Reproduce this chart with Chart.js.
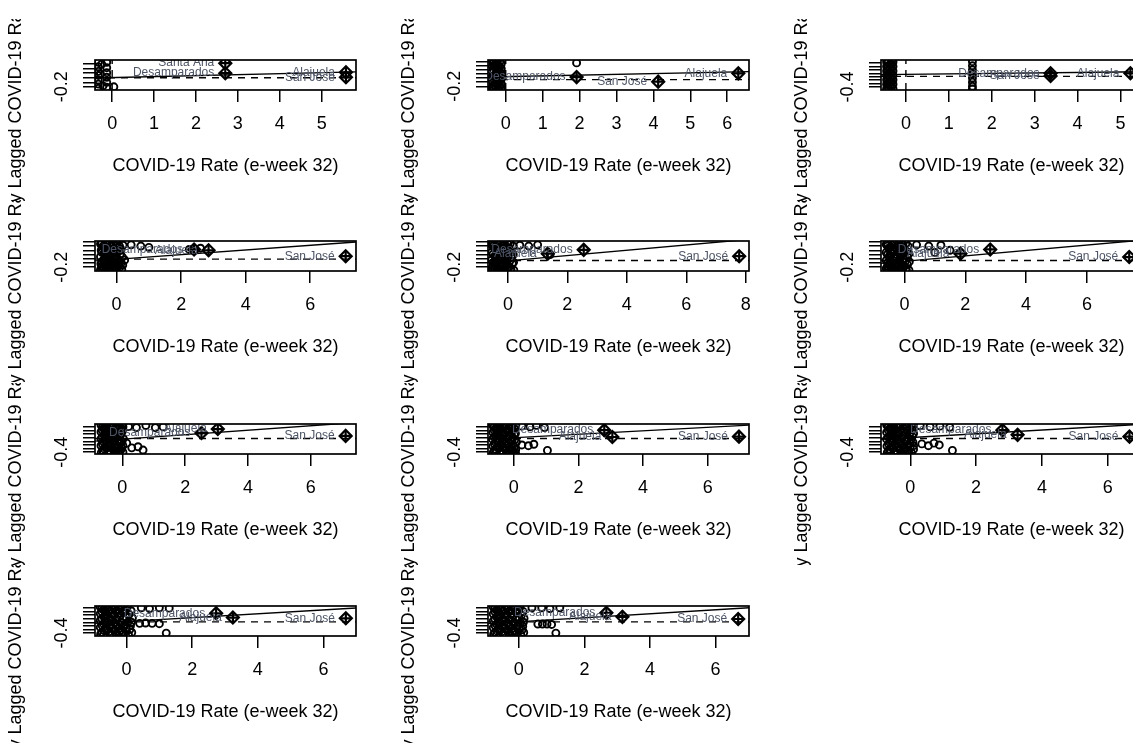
<!DOCTYPE html>
<html>
<head>
<meta charset="utf-8">
<script src="https://cdn.jsdelivr.net/npm/chart.js@4.4.1/dist/chart.umd.min.js"></script>
<style>
  html, body { margin: 0; padding: 0; background: #fff; }
  #page { position: relative; width: 1133px; height: 743px; overflow: hidden; background: #fff; }
  #page canvas { position: absolute; }
</style>
</head>
<body>
<div id="page"></div>
<script>
// ---- text ----
const xTitle = 'COVID-19 Rate (e-week 32)';
const yTitle = 'Spatially Lagged COVID-19 Rates (e-week 32)';

// ---- axis limits, tick steps, means and regression fit per panel (A..K, row by row) ----
const panelNames = ['A', 'B', 'C', 'D', 'E', 'F', 'G', 'H', 'I', 'J', 'K'];
const xLimits = [[-0.41, 5.82], [-0.48, 6.59], [-0.58, 5.5], [-0.67, 7.42], [-0.67, 8.11], [-0.77, 7.81],
                 [-0.87, 7.44], [-0.8, 7.28], [-0.89, 7.04], [-0.96, 6.99], [-0.94, 7.02]];
const yLimits = [[-0.27, 0.39], [-0.29, 0.43], [-0.49, 0.39], [-0.29, 0.42], [-0.29, 0.42], [-0.29, 0.42],
                 [-0.45, 0.38], [-0.45, 0.38], [-0.45, 0.38], [-0.48, 0.35], [-0.48, 0.35]];
const xTickStep = [1, 1, 1, 2, 2, 2, 2, 2, 2, 2, 2];
const meanRate = [0, 0, 0, 0, 0, 0, 0, 0, 0, 0, 0];
const meanLag = [0.0, -0.04, -0.09, -0.01, -0.04, -0.04, -0.02, -0.02, -0.02, -0.09, -0.09];
const regIntercept = [0.003, 0.03, -0.03, -0.014, -0.05, -0.06, -0.04, 0.0, 0.006, -0.08, -0.085];
const regSlope = [0.0217, 0.0185, 0.0138, 0.0554, 0.0627, 0.064, 0.0619, 0.048, 0.052, 0.0534, 0.055];

// ---- cantons: [rate, lagged rate] ----
const cantonsA = [[-0.33,0.34],[-0.33,0.24],[-0.33,0.14],[-0.33,0.05],[-0.33,-0.05],[-0.33,-0.14],[-0.33,-0.23],
  [-0.13,0.34],[-0.13,0.22],[-0.13,0.11],[-0.13,0.01],[-0.13,-0.1],[-0.13,-0.21],
  [-0.25,0.3],[-0.22,-0.18],[0.04,-0.2],[-0.28,0.08]];
const cantonsB = [[-0.36,0.39],[-0.36,0.28],[-0.36,0.16],[-0.36,0.04],[-0.36,-0.08],[-0.36,-0.2],
  [-0.26,0.36],[-0.26,0.24],[-0.26,0.12],[-0.26,0.0],[-0.26,-0.12],[-0.26,-0.24],
  [-0.16,0.39],[-0.16,0.27],[-0.16,0.15],[-0.16,0.03],[-0.16,-0.09],[-0.16,-0.21],
  [-0.3,0.32],[-0.21,-0.16],[-0.12,0.34],
  [-0.31,0.3],[-0.31,0.06],[-0.31,-0.18],[-0.21,0.3],[-0.21,0.06],[-0.2,-0.06],[-0.12,0.1],[-0.12,-0.14],
  [-0.33,0.36],[-0.33,0.18],[-0.33,-0.02],[-0.33,-0.24],[-0.22,0.42],[-0.22,0.18],[-0.22,-0.02],[-0.22,-0.25],
  [-0.12,0.22],[-0.12,-0.02],[-0.12,-0.24],[-0.36,-0.27],[-0.26,0.42],
  [1.92,0.36]];
const cantonsC = [[-0.45,0.33],[-0.45,0.2],[-0.45,0.07],[-0.45,-0.06],[-0.45,-0.19],[-0.45,-0.32],[-0.45,-0.45],
  [-0.37,0.27],[-0.37,0.14],[-0.37,0.01],[-0.37,-0.12],[-0.37,-0.25],[-0.37,-0.38],
  [-0.3,0.33],[-0.3,0.2],[-0.3,0.07],[-0.3,-0.06],[-0.3,-0.19],[-0.3,-0.32],[-0.3,-0.45],
  [-0.41,0.33],[-0.41,0.08],[-0.41,-0.17],[-0.41,-0.42],[-0.33,0.26],[-0.33,0.0],[-0.33,-0.26],
  [-0.41,0.2],[-0.41,-0.05],[-0.41,-0.3],[-0.33,0.38],[-0.33,0.13],[-0.33,-0.13],[-0.33,-0.39],
  [1.55,0.34],[1.55,0.22],[1.55,0.1],[1.55,-0.02],[1.55,-0.14],[1.55,-0.26],[1.55,-0.38],[1.55,-0.46]];
const cantonsD = [[-0.5,0.35],[-0.42,0.3],[-0.48,0.2],[-0.38,0.12],[-0.5,0.05],[-0.41,-0.03],[-0.49,-0.12],[-0.4,-0.2],[-0.5,-0.26],
  [-0.3,0.34],[-0.26,0.24],[-0.31,0.14],[-0.24,0.04],[-0.3,-0.06],[-0.22,-0.15],[-0.29,-0.25],
  [-0.15,0.3],[-0.1,0.2],[-0.16,0.1],[-0.08,0.0],[-0.14,-0.1],[-0.06,-0.19],[-0.15,-0.26],
  [0.02,0.35],[0.05,0.26],[0.0,0.15],[0.08,-0.08],[0.1,-0.2],[0.16,-0.25],[0.2,0.32],[0.14,0.22],[0.25,-0.03],
  [-0.45,0.25],[-0.36,-0.1],[-0.44,-0.24],[-0.2,0.3],[-0.2,0.06],[-0.19,-0.22],[-0.03,0.3],[-0.04,0.08],
  [-0.02,-0.12],[-0.01,-0.26],[0.12,0.12],[0.14,-0.1],[-0.35,0.2],[-0.1,-0.05],
  [-0.46,0.36],[-0.46,0.15],[-0.45,-0.07],[-0.46,-0.18],[-0.34,0.29],[-0.35,0.07],[-0.34,-0.16],[-0.35,-0.27],
  [-0.22,0.37],[-0.23,0.16],[-0.24,-0.04],[-0.25,-0.19],[-0.11,0.35],[-0.12,0.12],[-0.1,-0.14],[-0.09,-0.27],
  [0.02,0.21],[0.03,0.0],[0.06,-0.17],[0.18,0.04],[0.19,-0.15],[0.09,0.3],
  [0.45,0.33],[0.75,0.3],[1.0,0.27],[2.25,0.22],[2.6,0.25]];
const cantonsE = [[-0.55,0.34],[-0.46,0.26],[-0.54,0.16],[-0.44,0.07],[-0.55,-0.03],[-0.45,-0.12],[-0.54,-0.22],[-0.45,-0.27],
  [-0.34,0.33],[-0.3,0.22],[-0.36,0.12],[-0.28,0.02],[-0.35,-0.08],[-0.27,-0.18],[-0.35,-0.26],
  [-0.18,0.3],[-0.12,0.2],[-0.2,0.1],[-0.1,0.0],[-0.18,-0.1],[-0.08,-0.2],[-0.17,-0.26],
  [0.0,0.34],[0.04,0.24],[0.0,0.13],[0.06,-0.06],[0.1,-0.24],[0.2,-0.27],[0.18,0.3],[0.12,0.06],
  [-0.5,0.3],[-0.4,-0.03],[-0.5,-0.17],[-0.25,0.27],[-0.24,0.05],[-0.22,-0.24],[-0.05,0.29],[-0.06,0.08],
  [-0.04,-0.14],[-0.02,-0.26],[0.14,0.16],[0.15,-0.12],[-0.4,0.18],[-0.13,-0.05],
  [-0.5,0.36],[-0.5,0.11],[-0.49,-0.08],[-0.5,-0.26],[-0.39,0.3],[-0.4,0.07],[-0.39,-0.19],[-0.27,0.37],
  [-0.28,0.15],[-0.3,-0.13],[-0.3,-0.27],[-0.14,0.35],[-0.15,0.14],[-0.14,-0.16],[-0.12,-0.27],[0.02,0.19],
  [0.02,-0.01],[0.05,-0.19],[0.18,0.1],[0.19,-0.08],[0.08,0.36],[0.1,-0.27],
  [0.4,0.32],[0.7,0.3],[1.0,0.33],[1.42,0.1]];
const cantonsF = [[-0.6,0.34],[-0.52,0.25],[-0.6,0.15],[-0.5,0.06],[-0.6,-0.04],[-0.51,-0.13],[-0.6,-0.23],[-0.52,-0.27],
  [-0.4,0.32],[-0.36,0.22],[-0.42,0.12],[-0.33,0.02],[-0.41,-0.08],[-0.32,-0.18],[-0.4,-0.26],
  [-0.23,0.3],[-0.17,0.2],[-0.25,0.1],[-0.15,0.0],[-0.23,-0.1],[-0.13,-0.2],[-0.22,-0.26],
  [-0.05,0.34],[0.0,0.24],[-0.04,0.12],[0.02,-0.07],[0.06,-0.25],[0.15,-0.27],[0.12,0.3],[0.1,0.05],
  [-0.56,0.3],[-0.46,-0.02],[-0.56,-0.18],[-0.3,0.27],[-0.29,0.05],[-0.27,-0.24],[-0.1,0.29],[-0.1,0.07],
  [-0.08,-0.14],[-0.06,-0.26],[0.08,0.17],[0.1,-0.14],[-0.46,0.18],[-0.18,-0.05],
  [-0.56,0.36],[-0.56,0.1],[-0.55,-0.09],[-0.56,-0.26],[-0.45,0.28],[-0.46,0.07],[-0.45,-0.2],[-0.33,0.36],
  [-0.34,0.16],[-0.35,-0.13],[-0.35,-0.27],[-0.19,0.35],[-0.2,0.14],[-0.19,-0.16],[-0.17,-0.27],[-0.03,0.19],
  [-0.02,-0.01],[0.0,-0.18],[0.15,0.12],[0.16,-0.07],[0.05,0.36],[0.05,-0.27],
  [0.4,0.33],[0.8,0.3],[1.2,0.32],[1.0,0.15],[1.5,0.2]];
const cantonsG = [[-0.68,0.35],[-0.6,0.26],[-0.68,0.16],[-0.58,0.07],[-0.68,-0.03],[-0.59,-0.12],[-0.68,-0.22],[-0.58,-0.31],[-0.67,-0.41],
  [-0.48,0.33],[-0.44,0.22],[-0.5,0.12],[-0.42,0.02],[-0.5,-0.08],[-0.41,-0.18],[-0.5,-0.28],[-0.42,-0.38],
  [-0.32,0.3],[-0.26,0.2],[-0.34,0.1],[-0.24,0.0],[-0.32,-0.1],[-0.22,-0.2],[-0.31,-0.3],[-0.24,-0.41],
  [-0.14,0.35],[-0.1,0.25],[-0.15,0.13],[-0.08,0.04],[-0.14,-0.06],[-0.06,-0.15],[-0.14,-0.25],[-0.05,-0.34],[-0.12,-0.42],
  [0.02,0.3],[0.0,0.18],[0.03,-0.02],[0.02,-0.22],
  [-0.63,0.3],[-0.54,-0.02],[-0.63,-0.35],[-0.38,0.28],[-0.37,0.05],[-0.36,-0.24],[-0.2,0.27],[-0.19,0.06],
  [-0.18,-0.36],[-0.04,0.1],[-0.03,-0.28],[-0.55,0.2],[-0.27,-0.15],[-0.1,-0.1],
  [-0.64,0.21],[-0.64,0.02],[-0.63,-0.17],[-0.55,0.31],[-0.55,0.12],[-0.54,-0.07],[-0.54,-0.26],[-0.46,0.26],
  [-0.46,-0.36],[-0.37,0.14],[-0.37,-0.05],[-0.37,-0.43],[-0.28,0.34],[-0.28,-0.34],[-0.19,0.17],[-0.2,-0.27],
  [-0.1,-0.36],[-0.09,0.31],[-0.01,0.24],[-0.01,-0.11],[0.02,-0.4],[-0.6,-0.42],[-0.5,0.35],
  [0.14,-0.15],[0.3,-0.28],[0.5,-0.25],[0.66,-0.34],[0.2,0.31],[0.45,0.28],[0.75,0.34],[1.05,0.28],[1.3,0.3]];
const cantonsH = [[-0.66,0.34],[-0.57,0.25],[-0.65,0.15],[-0.56,0.06],[-0.66,-0.04],[-0.56,-0.13],[-0.65,-0.23],[-0.56,-0.32],[-0.64,-0.41],
  [-0.46,0.32],[-0.4,0.22],[-0.47,0.11],[-0.38,0.01],[-0.47,-0.09],[-0.38,-0.19],[-0.46,-0.29],[-0.38,-0.4],
  [-0.28,0.33],[-0.22,0.21],[-0.3,0.1],[-0.2,-0.01],[-0.28,-0.11],[-0.18,-0.21],[-0.27,-0.31],[-0.2,-0.42],
  [-0.1,0.3],[-0.05,0.2],[-0.11,0.1],[-0.03,0.0],[-0.1,-0.1],[-0.02,-0.2],[-0.1,-0.3],[-0.01,-0.4],
  [0.06,0.34],[0.05,0.12],[0.08,-0.12],[0.06,-0.32],
  [-0.61,0.3],[-0.51,-0.02],[-0.61,-0.36],[-0.35,0.28],[-0.34,0.05],[-0.33,-0.25],[-0.16,0.27],[-0.15,0.05],
  [-0.14,-0.36],[0.02,0.08],[0.02,-0.26],[-0.52,0.2],[-0.24,-0.16],[-0.06,-0.06],
  [-0.61,0.21],[-0.61,0.02],[-0.6,-0.17],[-0.52,0.31],[-0.52,0.12],[-0.51,-0.07],[-0.51,-0.26],[-0.42,0.27],
  [-0.42,-0.36],[-0.33,0.15],[-0.33,-0.05],[-0.33,-0.43],[-0.24,0.34],[-0.24,-0.34],[-0.15,0.17],[-0.16,-0.27],
  [-0.06,-0.36],[-0.05,0.31],[0.03,0.24],[0.03,-0.05],[0.05,-0.41],[-0.57,-0.42],[-0.47,0.35],
  [0.25,-0.2],[0.45,-0.22],[0.62,-0.18],[1.04,-0.35],[0.25,0.32],[0.5,0.3],[0.7,0.34],[0.95,0.28]];
const cantonsI = [[-0.72,0.35],[-0.63,0.25],[-0.72,0.15],[-0.62,0.06],[-0.72,-0.04],[-0.62,-0.13],[-0.71,-0.23],[-0.62,-0.32],[-0.7,-0.41],
  [-0.52,0.32],[-0.46,0.22],[-0.53,0.11],[-0.44,0.01],[-0.53,-0.09],[-0.44,-0.19],[-0.52,-0.29],[-0.44,-0.4],
  [-0.34,0.33],[-0.28,0.21],[-0.36,0.1],[-0.26,-0.01],[-0.34,-0.11],[-0.24,-0.21],[-0.33,-0.31],[-0.26,-0.42],
  [-0.15,0.3],[-0.1,0.2],[-0.16,0.1],[-0.08,0.0],[-0.15,-0.1],[-0.06,-0.2],[-0.15,-0.3],[-0.05,-0.4],
  [0.04,0.34],[0.1,0.12],[0.08,-0.12],[0.1,-0.32],[0.02,-0.04],
  [-0.67,0.3],[-0.57,-0.02],[-0.67,-0.36],[-0.4,0.28],[-0.4,0.05],[-0.38,-0.25],[-0.21,0.27],[-0.2,0.05],
  [-0.2,-0.36],[-0.02,0.1],[0.0,-0.26],[-0.58,0.2],[-0.3,-0.16],[-0.1,-0.06],[0.06,0.22],
  [-0.67,0.21],[-0.67,0.02],[-0.66,-0.17],[-0.58,0.31],[-0.58,0.11],[-0.57,-0.08],[-0.57,-0.26],[-0.48,0.27],
  [-0.48,-0.36],[-0.39,0.15],[-0.39,-0.05],[-0.39,-0.43],[-0.3,0.34],[-0.3,-0.34],[-0.2,0.17],[-0.21,-0.27],
  [-0.1,-0.36],[-0.1,0.31],[-0.01,0.24],[0.0,-0.16],[0.04,-0.42],[0.06,0.04],[-0.62,-0.42],[-0.52,0.35],[0.1,-0.22],
  [0.35,-0.17],[0.55,-0.22],[0.72,-0.15],[0.88,-0.2],[1.28,-0.35],[0.3,0.33],[0.6,0.3],[0.9,0.32],[1.2,0.29]];
const cantonsJ = [[-0.8,0.32],[-0.7,0.24],[-0.8,0.14],[-0.69,0.05],[-0.8,-0.05],[-0.7,-0.14],[-0.8,-0.24],[-0.69,-0.33],[-0.79,-0.43],
  [-0.58,0.31],[-0.52,0.2],[-0.6,0.1],[-0.5,0.0],[-0.59,-0.1],[-0.5,-0.2],[-0.58,-0.3],[-0.5,-0.42],
  [-0.38,0.32],[-0.32,0.21],[-0.4,0.1],[-0.3,-0.01],[-0.38,-0.11],[-0.28,-0.21],[-0.37,-0.31],[-0.3,-0.43],
  [-0.18,0.3],[-0.12,0.2],[-0.19,0.09],[-0.1,-0.01],[-0.18,-0.11],[-0.08,-0.21],[-0.17,-0.32],[-0.09,-0.42],
  [0.02,0.31],[0.08,0.12],[0.04,-0.1],[0.1,-0.3],[0.18,0.02],[0.16,-0.38],
  [-0.75,0.28],[-0.64,-0.01],[-0.75,-0.38],[-0.45,0.26],[-0.44,0.05],[-0.43,-0.26],[-0.24,0.26],[-0.23,0.04],
  [-0.22,-0.37],[-0.04,0.2],[-0.03,-0.16],[-0.64,0.19],[-0.33,-0.16],[0.12,-0.2],
  [-0.75,0.19],[-0.75,0.0],[-0.74,-0.19],[-0.65,0.3],[-0.65,0.1],[-0.64,-0.1],[-0.64,-0.28],[-0.54,0.25],
  [-0.54,-0.36],[-0.45,0.15],[-0.45,-0.06],[-0.44,-0.44],[-0.34,0.32],[-0.34,-0.36],[-0.24,0.15],[-0.24,-0.27],
  [-0.14,-0.37],[-0.13,0.31],[-0.03,0.25],[-0.02,0.05],[0.0,-0.28],[0.06,-0.44],[0.14,0.22],[0.15,-0.1],[-0.7,-0.44],
  [0.4,-0.13],[0.58,-0.12],[0.78,-0.13],[1.0,-0.14],[1.21,-0.4],[0.45,0.3],[0.7,0.28],[1.0,0.3],[1.3,0.29]];
const cantonsK = [[-0.78,0.32],[-0.68,0.23],[-0.78,0.13],[-0.67,0.04],[-0.78,-0.06],[-0.68,-0.15],[-0.78,-0.25],[-0.67,-0.34],[-0.77,-0.43],
  [-0.56,0.3],[-0.5,0.2],[-0.58,0.09],[-0.48,-0.01],[-0.57,-0.11],[-0.48,-0.21],[-0.56,-0.31],[-0.48,-0.42],
  [-0.36,0.32],[-0.3,0.2],[-0.38,0.09],[-0.28,-0.02],[-0.36,-0.12],[-0.26,-0.22],[-0.35,-0.32],[-0.28,-0.43],
  [-0.16,0.3],[-0.1,0.19],[-0.17,0.08],[-0.08,-0.02],[-0.16,-0.12],[-0.06,-0.22],[-0.15,-0.33],[-0.07,-0.42],
  [0.03,0.31],[0.08,0.1],[0.05,-0.11],[0.1,-0.31],[0.16,0.01],[0.15,-0.38],
  [-0.73,0.28],[-0.62,-0.01],[-0.73,-0.38],[-0.43,0.26],[-0.42,0.04],[-0.41,-0.27],[-0.22,0.25],[-0.21,0.03],
  [-0.2,-0.38],[-0.02,0.2],[-0.01,-0.17],[-0.62,0.18],[-0.31,-0.17],[0.12,-0.21],
  [-0.73,0.19],[-0.73,-0.01],[-0.72,-0.2],[-0.63,0.3],[-0.63,0.09],[-0.62,-0.1],[-0.62,-0.29],[-0.52,0.25],
  [-0.52,-0.36],[-0.43,0.14],[-0.43,-0.07],[-0.42,-0.44],[-0.32,0.31],[-0.32,-0.37],[-0.22,0.14],[-0.22,-0.28],
  [-0.12,-0.37],[-0.11,0.31],[-0.01,0.25],[0.0,0.04],[0.02,-0.28],[0.06,-0.44],[0.13,0.2],[0.14,-0.1],[-0.68,-0.44],
  [0.58,-0.15],[0.72,-0.15],[0.86,-0.15],[1.0,-0.16],[1.13,-0.4],[0.4,0.3],[0.7,0.3],[0.95,0.28],[1.25,0.3]];

// ---- influential cantons: [name, rate, lagged rate] ----
const influentialA = [['Santa Ana', 2.7, 0.32], ['Desamparados', 2.7, 0.1], ['Alajuela', 5.58, 0.12], ['San José', 5.58, 0.01]];
const influentialB = [['Desamparados', 1.92, 0.02], ['San José', 4.13, -0.09], ['Alajuela', 6.3, 0.11]];
const influentialC = [['Desamparados', 3.37, 0.0], ['San José', 3.37, -0.08], ['Alajuela', 5.23, 0.0]];
const influentialD = [['Desamparados', 2.4, 0.22], ['Alajuela', 2.85, 0.2], ['San José', 7.1, 0.06]];
const influentialE = [['Alajuela', 1.34, 0.12], ['Desamparados', 2.55, 0.21], ['San José', 7.78, 0.06]];
const influentialF = [['Alajuela', 1.84, 0.12], ['Desamparados', 2.82, 0.22], ['San José', 7.39, 0.04]];
const influentialG = [['Desamparados', 2.52, 0.13], ['Alajuela', 3.04, 0.24], ['San José', 7.11, 0.05]];
const influentialH = [['Desamparados', 2.8, 0.21], ['Alajuela', 3.05, 0.02], ['San José', 6.97, 0.03]];
const influentialI = [['Desamparados', 2.8, 0.21], ['Alajuela', 3.26, 0.08], ['San José', 6.66, 0.03]];
const influentialJ = [['Desamparados', 2.73, 0.15], ['Alajuela', 3.24, 0.03], ['San José', 6.68, 0.01]];
const influentialK = [['Desamparados', 2.67, 0.16], ['Alajuela', 3.16, 0.05], ['San José', 6.69, -0.01]];

const cantons = [cantonsA, cantonsB, cantonsC, cantonsD, cantonsE, cantonsF, cantonsG, cantonsH, cantonsI, cantonsJ, cantonsK];
const influential = [influentialA, influentialB, influentialC, influentialD, influentialE, influentialF,
                     influentialG, influentialH, influentialI, influentialJ, influentialK];

// ---- page layout ----
const FONT = "'Liberation Sans', Arial, Helvetica, sans-serif";
const panelCol = [0, 1, 2, 0, 1, 2, 0, 1, 2, 0, 1];
const panelRow = [0, 0, 0, 1, 1, 1, 2, 2, 2, 3, 3];
const boxLeft = [95, 488, 881];
const boxTop = [60, 241, 424, 606];
const BOX_W = 261, BOX_H = 30;
const MARGIN_L = 90, MARGIN_R = 42, MARGIN_T = 41;
const FIG_W = MARGIN_L + BOX_W + MARGIN_R, FIG_H = 182;
const MARGIN_B = FIG_H - MARGIN_T - BOX_H;

const framePlugin = {
  id: 'frame',
  afterDraw(chart) {
    const { ctx, chartArea: a } = chart;
    ctx.save();
    ctx.strokeStyle = '#000';
    ctx.lineWidth = 1.7;
    ctx.strokeRect(a.left, a.top, a.right - a.left, a.bottom - a.top);
    ctx.restore();
  }
};

const nameLabelPlugin = {
  id: 'nameLabels',
  afterDatasetsDraw(chart, args, opts) {
    const { ctx, chartArea: a, scales } = chart;
    ctx.save();
    ctx.beginPath();
    ctx.rect(a.left, a.top, a.right - a.left, a.bottom - a.top);
    ctx.clip();
    ctx.font = '12px ' + FONT;
    ctx.fillStyle = '#4d5566';
    ctx.textAlign = 'right';
    ctx.textBaseline = 'middle';
    opts.items.forEach(([name, x, y]) => {
      ctx.fillText(name, scales.x.getPixelForValue(x) - 11, scales.y.getPixelForValue(y));
    });
    ctx.restore();
  }
};

const page = document.getElementById('page');

panelNames.forEach((_, i) => {
  const col = panelCol[i], row = panelRow[i];
  const canvas = document.createElement('canvas');
  canvas.width = FIG_W;
  canvas.height = FIG_H;
  canvas.style.left = (boxLeft[col] - MARGIN_L) + 'px';
  canvas.style.top = (boxTop[row] - MARGIN_T) + 'px';
  canvas.style.width = FIG_W + 'px';
  canvas.style.height = FIG_H + 'px';
  page.appendChild(canvas);

  const [x0, x1] = xLimits[i];
  const [y0, y1] = yLimits[i];
  const infl = influential[i].map(([, x, y]) => ({ x, y }));
  const lineStyle = { showLine: true, pointRadius: 0, borderColor: '#000', borderWidth: 1.4, tension: 0, fill: false };

  new Chart(canvas, {
    type: 'scatter',
    data: {
      datasets: [
        { data: cantons[i].map(([x, y]) => ({ x, y })), pointStyle: 'circle', pointRadius: 3.5,
          borderColor: '#000', borderWidth: 1.9, backgroundColor: 'rgba(0,0,0,0)', order: 3 },
        { data: infl, pointStyle: 'rectRot', pointRadius: 6, borderColor: '#000', borderWidth: 2.2,
          backgroundColor: 'rgba(0,0,0,0)', order: 1 },
        { data: infl, pointStyle: 'cross', pointRadius: 6, borderColor: '#000', borderWidth: 2.2, order: 1 },
        { data: [{ x: x0, y: regIntercept[i] + regSlope[i] * x0 }, { x: x1, y: regIntercept[i] + regSlope[i] * x1 }],
          ...lineStyle, order: 2 },
        { data: [{ x: x0, y: meanLag[i] }, { x: x1, y: meanLag[i] }], ...lineStyle, borderDash: [7, 6], order: 2 },
        { data: [{ x: meanRate[i], y: y0 }, { x: meanRate[i], y: y1 }], ...lineStyle, borderDash: [7, 6], order: 2 }
      ]
    },
    options: {
      responsive: false,
      animation: false,
      devicePixelRatio: 1,
      events: [],
      layout: { padding: { top: MARGIN_T, right: MARGIN_R, left: 0, bottom: 0 } },
      plugins: {
        legend: { display: false },
        tooltip: { enabled: false },
        nameLabels: { items: influential[i] }
      },
      scales: {
        x: {
          type: 'linear', position: 'bottom', min: x0, max: x1,
          afterFit: s => { s.height = MARGIN_B; },
          grid: { drawOnChartArea: false, drawTicks: true, tickLength: 12, color: '#000', lineWidth: 1.5 },
          border: { display: false },
          ticks: { stepSize: xTickStep[i], includeBounds: false, autoSkip: false, maxRotation: 0, minRotation: 0,
                   color: '#000', font: { family: FONT, size: 18 }, padding: 11,
                   callback: v => String(v) },
          title: { display: true, text: xTitle, color: '#000', font: { family: FONT, size: 18 },
                   padding: { top: 0, bottom: 24 } }
        },
        y: {
          type: 'linear', position: 'left', min: y0, max: y1,
          afterFit: s => { s.width = MARGIN_L; },
          grid: { drawOnChartArea: false, drawTicks: true, tickLength: 12, color: '#000', lineWidth: 1.5 },
          border: { display: false },
          ticks: { stepSize: 0.1, includeBounds: false, autoSkip: false, minRotation: 90, maxRotation: 90,
                   crossAlign: 'center', padding: 5, color: '#000', font: { family: FONT, size: 18 },
                   callback: (v, idx) => idx === 0 ? v.toFixed(1) : '' },
          title: { display: true, text: yTitle, color: '#000', font: { family: FONT, size: 18 }, padding: 0 }
        }
      }
    },
    plugins: [framePlugin, nameLabelPlugin]
  });
});
</script>
</body>
</html>
